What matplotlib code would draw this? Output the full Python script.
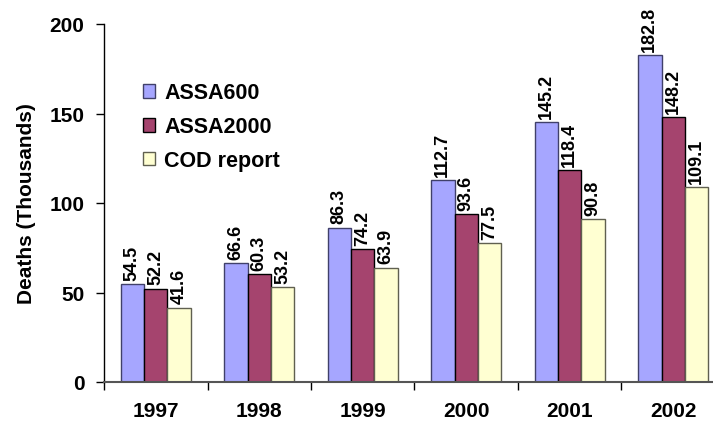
import matplotlib
matplotlib.use("Agg")
import matplotlib.pyplot as plt
import numpy as np

years = ["1997", "1998", "1999", "2000", "2001", "2002"]
assa600 = [54.5, 66.6, 86.3, 112.7, 145.2, 182.8]
assa2000 = [52.2, 60.3, 74.2, 93.6, 118.4, 148.2]
cod = [41.6, 53.2, 63.9, 77.5, 90.8, 109.1]

series = [("ASSA600", assa600, "#A6A6FF", "#40406A"),
          ("ASSA2000", assa2000, "#A5446E", "#000000"),
          ("COD report", cod, "#FFFFD2", "#606050")]

plt.rcParams['font.family'] = ['Liberation Sans', 'DejaVu Sans']
plt.rcParams['font.weight'] = 'bold'

fig = plt.figure(figsize=(7.13, 4.27), dpi=100)
ax = fig.add_axes([104/713, 1-383/427, 621/713, 358/427])

x = np.arange(len(years))
w = 0.227
for i, (name, vals, col, ec) in enumerate(series):
    pos = x + (i - 1) * w
    ax.bar(pos, vals, w, color=col, edgecolor=ec, linewidth=1, label=name)
    for px, v in zip(pos, vals):
        ax.annotate(f"{v:.1f}", (px, v), xytext=(0, 3), textcoords="offset points",
                    rotation=90, ha="center", va="bottom", fontsize=13, fontweight="bold")

ax.set_xlim(-0.5, len(years) - 0.5)
ax.set_ylim(0, 200)
ax.set_yticks([0, 50, 100, 150, 200])
ax.tick_params(axis="y", labelsize=15, length=6, width=1, direction="out", pad=8)
ax.set_xticks(x)
ax.set_xticklabels(years, fontsize=15, fontweight="bold")
ax.tick_params(axis="x", length=0, pad=14)
ax.set_xticks(np.arange(len(years) + 1) - 0.5, minor=True)
ax.tick_params(axis="x", which="minor", length=6, width=1, direction="out")
for lbl in ax.get_yticklabels():
    lbl.set_fontweight("bold")

ax.spines["top"].set_visible(False)
ax.spines["right"].set_visible(False)
ax.spines["left"].set_linewidth(1)
ax.spines["bottom"].set_color("#555555")
ax.spines["bottom"].set_linewidth(1.5)

ax.set_ylabel("Deaths (Thousands)", fontsize=15, fontweight="bold", labelpad=10)

ax.legend(loc="upper left", bbox_to_anchor=(0.062, 0.837), frameon=False,
          borderaxespad=0, borderpad=0, handlelength=0.6, handleheight=0.6,
          handletextpad=0.4, labelspacing=0.6, prop={"weight": "bold", "size": 15.5})

fig.savefig("out.png", dpi=100)
